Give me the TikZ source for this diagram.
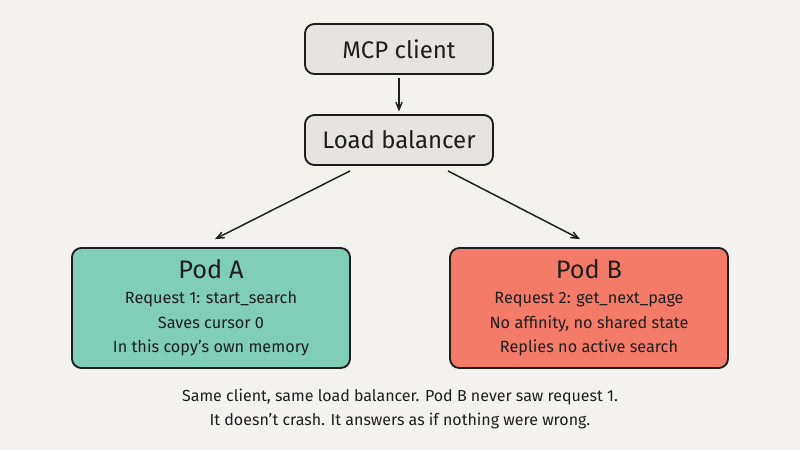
\documentclass[tikz,border=0pt]{standalone}
\usepackage{fontspec}
\setmainfont{Fira Sans}
\usetikzlibrary{arrows}
\definecolor{bgcol}{HTML}{F3F2EF}
\definecolor{inkcol}{HTML}{1E1E1E}
\definecolor{boxgray}{HTML}{E5E4E2}
\definecolor{podteal}{HTML}{80CDB8}
\definecolor{podred}{HTML}{F47B68}

\begin{document}
\begin{tikzpicture}[x=0.75pt, y=-0.75pt, line width=1.1pt, >=angle 45, draw=inkcol,
    box node/.style={draw=inkcol, line width=1.4pt, rounded corners=7pt, fill=boxgray, text=inkcol,
        minimum width=141pt, minimum height=37.5pt, font=\fontsize{18}{21}\selectfont},
    pod node/.style={box node, minimum width=208.5pt, minimum height=90pt, align=center,
        font=\fontsize{12.2}{18.5}\selectfont},
    note node/.style={align=center, text=inkcol, font=\fontsize{12}{18}\selectfont}]
\fill[bgcol] (0,0) rectangle (800,450);
\node[box node] (client) at (399,49) {MCP client};
\node[box node] (lb) at (399,140) {Load balancer};
\node[pod node, fill=podteal] (poda) at (211,308)
    {{\fontsize{19}{21}\selectfont Pod A}\\ Request 1: start\_search\\ Saves cursor 0\\ In this copy's own memory};
\node[pod node, fill=podred] (podb) at (589,308)
    {{\fontsize{19}{21}\selectfont Pod B}\\ Request 2: get\_next\_page\\ No affinity, no shared state\\ Replies no active search};
\node[note node] (note) at (400,409)
    {Same client, same load balancer. Pod B never saw request 1.\\ It doesn't crash. It answers as if nothing were wrong.};
\draw[->, inkcol, shorten <=2pt, shorten >=2pt] (client) -- (lb);
\draw[->, inkcol] ([xshift=-36.75pt, yshift=-3.75pt]lb.south) -- ([xshift=3pt, yshift=6pt]poda.north);
\draw[->, inkcol] ([xshift=36.75pt, yshift=-3.75pt]lb.south) -- ([xshift=-6.75pt, yshift=6pt]podb.north);
\end{tikzpicture}
\end{document}
